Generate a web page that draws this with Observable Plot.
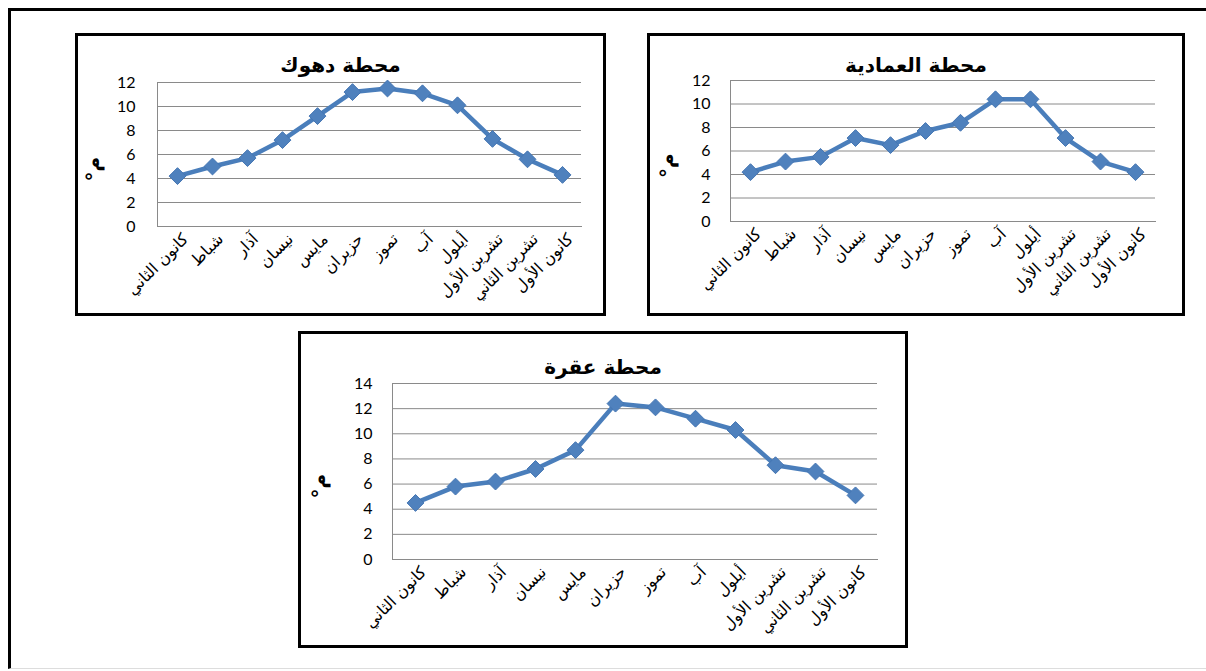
<!DOCTYPE html>
<html><head><meta charset="utf-8">
<script src="https://cdn.jsdelivr.net/npm/d3@7"></script>
<script src="https://cdn.jsdelivr.net/npm/@observablehq/plot@0.6"></script>
<style>
html,body{margin:0;padding:0;background:#fff;width:1206px;height:671px;overflow:hidden;position:relative}
#frame{position:absolute;left:8px;top:8px;width:1300px;height:657px;border-left:3px solid #000;border-top:3px solid #000;border-bottom:1px solid #ddd}
.panel{position:absolute;box-sizing:border-box;border:3px solid #000;background:#fff}
.title{font-family:"DejaVu Sans",sans-serif;font-weight:bold;font-size:20px;line-height:20px;text-align:center;direction:rtl;box-sizing:border-box;color:#000}
svg{display:block}
</style></head><body>
<div id="frame"></div>
<div id="p1" class="panel" style="left:75px;top:33px;width:531px;height:283px"></div>
<div id="p2" class="panel" style="left:647px;top:33px;width:538px;height:283px"></div>
<div id="p3" class="panel" style="left:298px;top:331px;width:610px;height:317px"></div>
<script>
// ---- data ----
const months = ["كانون الثاني","شباط","آذار","نيسان","مايس","حزيران","تموز","آب","أيلول","تشرين الأول","تشرين الثاني","كانون الأول"];
const duhok   = [4.2, 5.0, 5.7, 7.2, 9.2, 11.2, 11.5, 11.1, 10.1, 7.3, 5.6, 4.3];
const amadiya = [4.2, 5.1, 5.5, 7.1, 6.5, 7.7, 8.4, 10.4, 10.4, 7.1, 5.1, 4.2];
const aqra    = [4.5, 5.8, 6.2, 7.2, 8.7, 12.4, 12.1, 11.2, 10.3, 7.5, 7.0, 5.1];
const titles  = ["محطة دهوك", "محطة العمادية", "محطة عقرة"];
const yTicks12 = [0, 2, 4, 6, 8, 10, 12];
const yTicks14 = [0, 2, 4, 6, 8, 10, 12, 14];
const yLabel = "°م";

const lineColor = "#4a7ebb";
const gridColor = "#8a8a8a";

function makePanel(el, title, values, ticks, L) {
  const t = document.createElement("div");
  t.className = "title";
  t.style.height = L.titleH + "px";
  t.style.paddingTop = L.titlePad + "px";
  t.textContent = title;
  el.appendChild(t);
  const data = months.map((m, i) => ({month: m, value: values[i]}));
  const chart = Plot.plot({
    width: L.w, height: L.h,
    marginLeft: L.mL, marginRight: L.mR, marginTop: L.mT, marginBottom: L.mB,
    style: {fontFamily: "Lato, sans-serif", background: "#fff", overflow: "visible"},
    x: {type: "point", domain: months, padding: 0.5},
    y: {domain: [0, ticks[ticks.length - 1]]},
    marks: [
      Plot.gridY(ticks, {stroke: gridColor, strokeOpacity: 1, strokeWidth: 1}),
      Plot.frame({anchor: "left", stroke: gridColor, strokeWidth: 1}),
      Plot.frame({anchor: "bottom", stroke: gridColor, strokeWidth: 1}),
      Plot.axisY(ticks, {tickSize: 0, tickPadding: L.tickPadY, fontSize: 16, fill: "#000", label: null}),
      Plot.axisX({tickSize: 0, tickPadding: 10, tickRotate: -45, fontSize: 16,
                  fontFamily: "DejaVu Sans, sans-serif", fill: "#000", label: null, dx: 8}),
      Plot.text([yLabel], {frameAnchor: "left", dx: L.ylabDx, dy: 27, rotate: -90,
                  fontSize: 20, fontWeight: "bold", fontFamily: "DejaVu Sans, sans-serif", fill: "#000"}),
      Plot.line(data, {x: "month", y: "value", stroke: lineColor, strokeWidth: 4.5, strokeLinejoin: "round"}),
      Plot.dot(data, {x: "month", y: "value", symbol: "diamond2", r: 7.6, fill: "#4f81bd", stroke: "#4576b3", strokeWidth: 1})
    ]
  });
  el.appendChild(chart);
}

makePanel(document.getElementById("p1"), titles[0], duhok, yTicks12,
  {w: 525, h: 239, titleH: 38, titlePad: 19, mL: 79, mR: 22, mT: 8, mB: 87, tickPadY: 22, ylabDx: -64});
makePanel(document.getElementById("p2"), titles[1], amadiya, yTicks12,
  {w: 532, h: 239, titleH: 38, titlePad: 19, mL: 80, mR: 27, mT: 6, mB: 92, tickPadY: 20, ylabDx: -63});
makePanel(document.getElementById("p3"), titles[2], aqra, yTicks14,
  {w: 604, h: 268, titleH: 43, titlePad: 23, mL: 91, mR: 28, mT: 6, mB: 86, tickPadY: 20, ylabDx: -73});
</script>
</body></html>
